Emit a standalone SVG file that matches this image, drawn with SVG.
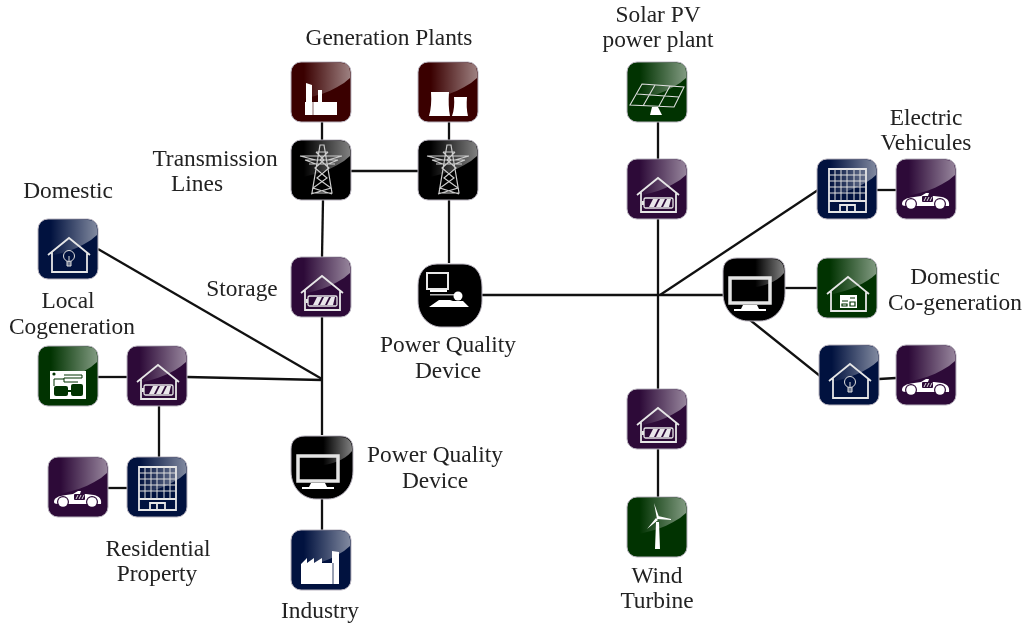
<svg xmlns="http://www.w3.org/2000/svg" width="1023" height="623" viewBox="0 0 1023 623">
<style>
text{font-family:"Liberation Serif","Times New Roman",serif;font-size:23.4px;fill:#222;text-anchor:middle}
.c line{stroke:#111;stroke-width:2.3;fill:none}
.frame{stroke:#b9b4bf;stroke-width:1}
.maroon{fill:#3a0000}.black{fill:#000}.navy{fill:#01123f}.green{fill:#013301}.purple{fill:#2d0a38}
.w{fill:#fff;stroke:none}
.l{fill:none;stroke:#e6e6e6;stroke-width:1.8;stroke-linejoin:miter}
.t{fill:none;stroke:#ddd;stroke-width:1}
</style>
<defs>
<filter id="soft" x="0" y="0" width="100%" height="100%" color-interpolation-filters="sRGB"><feGaussianBlur stdDeviation="0.35"/></filter>
<linearGradient id="gl" x1="0" x2="1" y1="0" y2="0"><stop offset=".2" stop-color="#fff" stop-opacity="0"/><stop offset="1" stop-color="#fff" stop-opacity=".5"/></linearGradient>
<g id="tile"><rect class="frame" x="0" y="0" width="60" height="60" rx="10"/><path d="M1,10Q1,1 10,1H50Q59,1 59,10V16C44,30 20,36 1,39Z" fill="url(#gl)"/></g>
<g id="blob"><path class="frame" d="M15,1H50C59,1 63,6 63,14V36C63,54 50,64 38,64H26C14,64 1,54 1,36V14C1,6 6,1 15,1Z"/><path d="M26,2H50C58,2 62,6 62,14V16C54,26 42,29 28,31Z" fill="url(#gl)"/></g>
<g id="house"><path class="l" d="M10,36L31,19L52,36M14,33V53H49V33"/></g>
<g id="battery"><use href="#house"/><rect x="17" y="39" width="29" height="10" rx="1.5" fill="none" stroke="#e6e6e6" stroke-width="1.3"/><rect x="15" y="42" width="2" height="4" fill="#e6e6e6"/><path class="w" d="M22,48L26,40H31L27,48ZM29,48L33,40H38L34,48ZM36,48L40,40H44L42,48Z" opacity=".9"/></g>
<g id="bulb"><use href="#house"/><circle cx="31" cy="37" r="5.5" class="t"/><path class="t" d="M29,42V47H33V42M29,44H33M29,46H33M31,37V42"/></g>
<g id="car"><path class="w" d="M6,45C6,41 10,39 18,38L25,37L30,34L33,34L32,37H38L46,38C51,39 54,42 53,47H10C7,47 6,46 6,45Z"/><circle cx="15" cy="45" r="6" fill="#2d0a38"/><circle cx="44" cy="45" r="6" fill="#2d0a38"/><circle cx="15" cy="45" r="4.8" class="w"/><circle cx="44" cy="45" r="4.8" class="w"/><rect x="26" y="37" width="11" height="6" rx="1" fill="#2d0a38"/><path class="t" d="M28,42L30,38M31,42L33,38M34,42L36,38"/></g>
<g id="tower"><path fill="none" stroke="#ccc" stroke-width="1.2" d="M29,5L21,53H41L33,5ZM9,16H51M14,20H47M18,24H44M25,12H37M25,12L33,20L24,28L36,38L22,48L41,54M37,12L29,20L38,28L26,38L40,48L20,54M9,16L25,20M51,16L37,20M14,20L25,24M47,20L37,24"/></g>
<g id="monitor"><rect x="8" y="21" width="40" height="25" fill="none" stroke="#e4e4e4" stroke-width="3.5"/><path class="w" d="M21,48H35L37,52H44V54H12V52H19Z"/></g>
</defs>

<g filter="url(#soft)">
<g class="c" id="connectors">
<line x1="322" y1="122" x2="322" y2="140"/>
<line x1="449" y1="122" x2="449" y2="140"/>
<line x1="351" y1="171" x2="418" y2="171"/>
<line x1="323" y1="200" x2="322" y2="257"/>
<line x1="449" y1="200" x2="449" y2="263"/>
<line x1="322" y1="317" x2="322" y2="435"/>
<line x1="322" y1="499" x2="322" y2="530"/>
<line x1="98" y1="249" x2="322" y2="379"/>
<line x1="187" y1="377" x2="322" y2="380"/>
<line x1="98" y1="377" x2="127" y2="377"/>
<line x1="159" y1="406" x2="159" y2="457"/>
<line x1="108" y1="488" x2="127" y2="488"/>
<line x1="482" y1="295" x2="723" y2="295"/>
<line x1="658" y1="122" x2="658" y2="159"/>
<line x1="658" y1="219" x2="658" y2="389"/>
<line x1="658" y1="449" x2="658" y2="497"/>
<line x1="660" y1="295" x2="818" y2="190"/>
<line x1="785" y1="288" x2="817" y2="288"/>
<line x1="750" y1="320" x2="820" y2="376"/>
<line x1="879" y1="379" x2="896" y2="378"/>
<line x1="877" y1="190" x2="896" y2="190"/>
</g>

<g id="gen-factory" class="maroon" transform="translate(291 62)"><use href="#tile"/><path class="w" d="M15,21L21,23V40H27V28H31V40H46V53H14V40H15Z"/><path d="M22,40V53" stroke="#3a0000" stroke-width=".6"/></g>
<g id="gen-cooling" class="maroon" transform="translate(418 62)"><use href="#tile"/><path class="w" d="M13,30H31Q30,44 32,54H11Q14,44 13,30ZM36,35H49Q48,46 50,54H34Q37,46 36,35Z"/></g>
<g id="tower-1" class="black" transform="translate(291 140)"><use href="#tile"/><use href="#tower"/></g>
<g id="tower-2" class="black" transform="translate(418 140)"><use href="#tile"/><use href="#tower"/></g>
<g id="domestic" class="navy" transform="translate(38 219)"><use href="#tile"/><use href="#bulb"/></g>
<g id="storage" class="purple" transform="translate(291 257)"><use href="#tile"/><use href="#battery"/></g>
<g id="local-cogen" class="green" transform="translate(38 346)"><use href="#tile"/><rect class="w" x="12" y="25" width="36" height="28"/><circle cx="16" cy="28" r="1.6" fill="#013301"/><path d="M16,40V33H26M26,29H44V32H26V36H40" fill="none" stroke="#013301" stroke-width="1"/><rect x="16" y="40" width="14" height="10" rx="2" fill="#013301"/><rect x="33" y="38" width="12" height="12" rx="2" fill="#013301"/><path d="M30,45H33" stroke="#013301" stroke-width="2"/></g>
<g id="residential-storage" class="purple" transform="translate(127 346)"><use href="#tile"/><use href="#battery"/></g>
<g id="residential-car" class="purple" transform="translate(48 457)"><use href="#tile"/><use href="#car"/></g>
<g id="residential-building" class="navy" transform="translate(127 457)"><use href="#tile"/><path class="l" d="M12,10H49V53H12ZM12,42H49M23,53V46H38V53M30,46V53"/><path class="t" d="M18,10V42M24,10V42M30,10V42M37,10V42M43,10V42M12,16H49M12,22H49M12,28H49M12,34H49"/></g>
<g id="pq-lower" class="black" transform="translate(290 435)"><use href="#blob"/><use href="#monitor"/></g>
<g id="industry" class="navy" transform="translate(291 530)"><use href="#tile"/><path class="w" d="M10,34L16,28V33L23,28V33L31,28V33H41V21L48,22V54H10Z"/><path d="M42,33V54" stroke="#01123f" stroke-width=".8"/></g>
<g id="pq-upper" class="black" transform="translate(417 263)"><path class="frame" d="M20,1H46C58,1 65,10 65,24V38C65,54 52,64 42,64H24C13,64 1,54 1,38V22C1,10 8,1 20,1Z"/><rect x="10" y="10" width="21" height="16" fill="none" stroke="#e8e8e8" stroke-width="2"/><rect class="w" x="13" y="27" width="17" height="2"/><rect class="w" x="13" y="31" width="25" height="1.5" opacity=".7"/><circle class="w" cx="41" cy="33" r="4.5"/><path class="w" d="M12,44L22,37H33L36,38H46L52,44Z"/></g>
<g id="solar" class="green" transform="translate(627 62)"><use href="#tile"/><path d="M15,22L57,25L47,45L3,43ZM28,23L16,44M43,24L32,44M10,32L52,35" fill="none" stroke="#ddd" stroke-width="1.1"/><path class="w" d="M25,45H31L35,53H23Z"/></g>
<g id="solar-storage" class="purple" transform="translate(627 159)"><use href="#tile"/><use href="#battery"/></g>
<g id="wind-storage" class="purple" transform="translate(627 389)"><use href="#tile"/><use href="#battery"/></g>
<g id="wind" class="green" transform="translate(627 497)"><use href="#tile"/><path class="w" d="M29,25H32L33,52H28ZM27,6L32,20L30,22ZM31,19L44,22V23L30,22ZM29,21L31,23L20,32Z"/></g>
<g id="pq-right" class="black" transform="translate(722 257)"><use href="#blob"/><use href="#monitor"/></g>
<g id="ev-building" class="navy" transform="translate(817 159)"><use href="#tile"/><path class="l" d="M12,10H49V53H12ZM12,42H49M23,53V46H38V53M30,46V53"/><path class="t" d="M18,10V42M24,10V42M30,10V42M37,10V42M43,10V42M12,16H49M12,22H49M12,28H49M12,34H49"/></g>
<g id="ev-car" class="purple" transform="translate(896 159)"><use href="#tile"/><use href="#car"/></g>
<g id="domestic-cogen" class="green" transform="translate(817 258)"><use href="#tile"/><use href="#house"/><rect class="w" x="23" y="37" width="17" height="13"/><path d="M25,43H31M33,40H38M25,46H30V48H25ZM33,44H38V48H33Z" fill="none" stroke="#013301" stroke-width="1.2"/></g>
<g id="home-right" class="navy" transform="translate(819 345)"><use href="#tile"/><use href="#bulb"/></g>
<g id="home-car" class="purple" transform="translate(896 345)"><use href="#tile"/><use href="#car"/></g>

<g id="labels">
<text x="389" y="45">Generation Plants</text>
<text x="658" y="22">Solar PV</text>
<text x="658" y="47">power plant</text>
<text x="926" y="125">Electric</text>
<text x="926" y="150">Vehicules</text>
<text x="215" y="166">Transmission</text>
<text x="197" y="191">Lines</text>
<text x="68" y="198">Domestic</text>
<text x="68" y="308">Local</text>
<text x="72" y="334">Cogeneration</text>
<text x="242" y="296">Storage</text>
<text x="448" y="352">Power Quality</text>
<text x="448" y="378">Device</text>
<text x="435" y="462">Power Quality</text>
<text x="435" y="488">Device</text>
<text x="158" y="556">Residential</text>
<text x="157" y="581">Property</text>
<text x="320" y="618">Industry</text>
<text x="657" y="583">Wind</text>
<text x="657" y="608">Turbine</text>
<text x="955" y="284">Domestic</text>
<text x="955" y="310">Co-generation</text>
</g>
</g>
</svg>
